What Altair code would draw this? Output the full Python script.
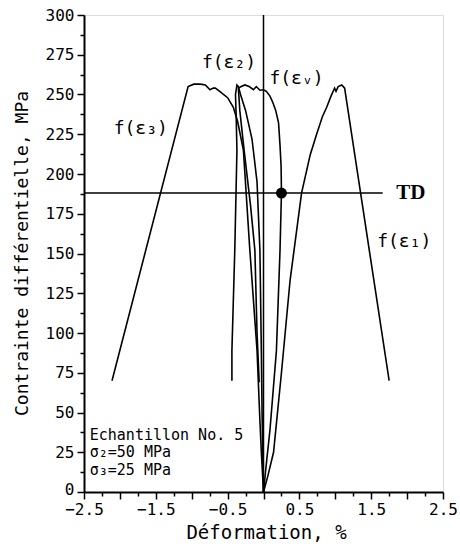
import altair as alt
import pandas as pd

# ---- data ----
eps1_x = [0, 0.06, 0.14, 0.25, 0.37, 0.53, 0.65, 0.74, 0.82, 0.88, 0.94, 0.99, 1.01, 1.04, 1.09, 1.13, 1.75]
eps1_y = [0, 10, 25, 75, 133, 188, 212, 225, 236, 242, 249, 254, 252, 255, 256, 254, 70]

eps3_x = [0, -0.03, -0.05, -0.09, -0.19, -0.28, -0.36, -0.42, -0.50, -0.61, -0.67, -0.70, -0.745, -0.81, -0.88, -0.97, -1.05, -2.11]
eps3_y = [0, 25, 45, 89, 152, 215, 233, 242, 248, 252, 254, 254, 253, 256, 256.5, 256.5, 255, 70]

eps2_x = [0, -0.01, -0.02, -0.03, -0.05, -0.09, -0.16, -0.25, -0.32, -0.35, -0.37, -0.39, -0.38, -0.37, -0.40, -0.44, -0.44]
eps2_y = [0, 25, 50, 89, 152, 195, 222, 240, 250, 255, 256, 250, 235, 215, 152, 89, 70]

epsv_x = [0, 0.04, 0.09, 0.18, 0.23, 0.25, 0.245, 0.23, 0.21, 0.17, 0.13, 0.09, 0.04, 0.0, -0.05, -0.10, -0.14, -0.20, -0.26, -0.31, -0.35, -0.33, -0.27, -0.18, -0.12, -0.09, -0.06]
epsv_y = [0, 18, 39, 89, 152, 188, 205, 218, 232, 240, 245, 249, 252, 253, 252.7, 255, 253, 255, 256, 255, 254, 240, 215, 180, 152, 100, 69]

label_text = ["f(ε₁)", "f(ε₂)", "f(ε₃)", "f(εᵥ)"]
label_x = [1.96, -0.48, -1.71, 0.46]
label_y = [157, 270, 228, 260]

note_text = ["Echantillon No. 5", "σ₂=50 MPa", "σ₃=25 MPa"]
note_x = [-2.42, -2.42, -2.42]
note_y = [32.7, 22.2, 10.7]

td_x = [-2.5, 1.66]
td_y = [188, 188]
td_label = "TD"
td_label_x = 1.85
dot_x = [0.25]
dot_y = [188]
vline_x = [0]

x_ticks = [-2.5 + 0.25 * i for i in range(21)]
y_ticks = [12.5 * i for i in range(25)]

# ---- tables ----
rows = []
for name, xs, ys in [("e1", eps1_x, eps1_y), ("e3", eps3_x, eps3_y),
                     ("e2", eps2_x, eps2_y), ("ev", epsv_x, epsv_y)]:
    for i, (a, b) in enumerate(zip(xs, ys)):
        rows.append({"series": name, "order": i, "x": a, "y": b})
curves = pd.DataFrame(rows)
labels = pd.DataFrame({"t": label_text, "x": label_x, "y": label_y})
notes = pd.DataFrame({"t": note_text, "x": note_x, "y": note_y})
td = pd.DataFrame({"x": td_x, "y": td_y})
dot = pd.DataFrame({"x": dot_x, "y": dot_y})
vline = pd.DataFrame({"x": vline_x, "y": [0], "y2": [300]})
tdl = pd.DataFrame({"t": [td_label], "x": [td_label_x], "y": [188]})

MONO = "DejaVu Sans Mono"
xscale = alt.Scale(domain=[-2.5, 2.5], nice=False, zero=False)
yscale = alt.Scale(domain=[0, 300], nice=False, zero=False)

xax = alt.Axis(
    values=x_ticks, format=".1f", grid=False,
    labelExpr="abs((datum.value + 2.5) % 1) < 0.01 ? datum.label : ''",
    tickSize={"condition": {"test": "abs((datum.value + 2.5) % 0.5) < 0.01", "value": 7}, "value": 4},
    labelFlush=False, labelOverlap=False, labelPadding=2,
    labelFont=MONO, labelFontSize=16, labelColor="black",
    domainColor="black", domainWidth=2, tickColor="black", tickWidth=1.5,
    title="Déformation, %", titleFont=MONO, titleFontSize=19, titleFontWeight="normal",
    titleColor="black", titleX=182, titleY=40, titleAlign="center", titleBaseline="middle",
)
yax = alt.Axis(
    values=y_ticks, format=".0f", grid=False,
    labelExpr="datum.value % 25 == 0 ? datum.label : ''",
    tickSize={"condition": {"test": "datum.value % 25 == 0", "value": 7}, "value": 4},
    labelOffset={"condition": {"test": "datum.value == 0", "value": -3}, "value": 0},
    labelOverlap=False, labelPadding=3,
    labelFont=MONO, labelFontSize=16, labelColor="black",
    domainColor="black", domainWidth=2, tickColor="black", tickWidth=1.5,
    title="Contrainte différentielle, MPa", titleFont=MONO, titleFontSize=18,
    titleFontWeight="normal", titleColor="black", titleAngle=-90,
    titleX=-62, titleY=238, titleAlign="center", titleBaseline="middle",
)

X = alt.X("x:Q", scale=xscale, axis=xax)
Y = alt.Y("y:Q", scale=yscale, axis=yax)

lines = alt.Chart(curves).mark_line(color="black", strokeWidth=1.6).encode(
    x=X, y=Y, detail="series:N", order="order:Q")

tdline = alt.Chart(td).mark_line(color="black", strokeWidth=1.5).encode(x=X, y=Y)

vrule = alt.Chart(vline).mark_rule(color="black", strokeWidth=1.5).encode(
    x=X, y=Y, y2="y2:Q")

dots = alt.Chart(dot).mark_circle(color="black", opacity=1, size=120).encode(x=X, y=Y)

lab = alt.Chart(labels).mark_text(font=MONO, fontSize=18, color="black").encode(
    x=X, y=Y, text="t:N")

note = alt.Chart(notes).mark_text(font=MONO, fontSize=15, color="black",
                                  align="left", baseline="alphabetic").encode(
    x=X, y=Y, text="t:N")

tdtext = alt.Chart(tdl).mark_text(font="Liberation Serif", fontSize=21, fontWeight="bold",
                                  color="black", align="left", baseline="middle").encode(
    x=X, y=Y, text="t:N")

chart = alt.layer(vrule, tdline, lines, dots, lab, note, tdtext).properties(
    width=359, height=477, autosize="none",
    padding={"left": 84, "top": 15, "right": 17, "bottom": 56},
).configure_view(stroke="black", strokeWidth=1.5).configure(background="white")

chart.save("out.html", embed_options={"renderer": "svg", "actions": False})
